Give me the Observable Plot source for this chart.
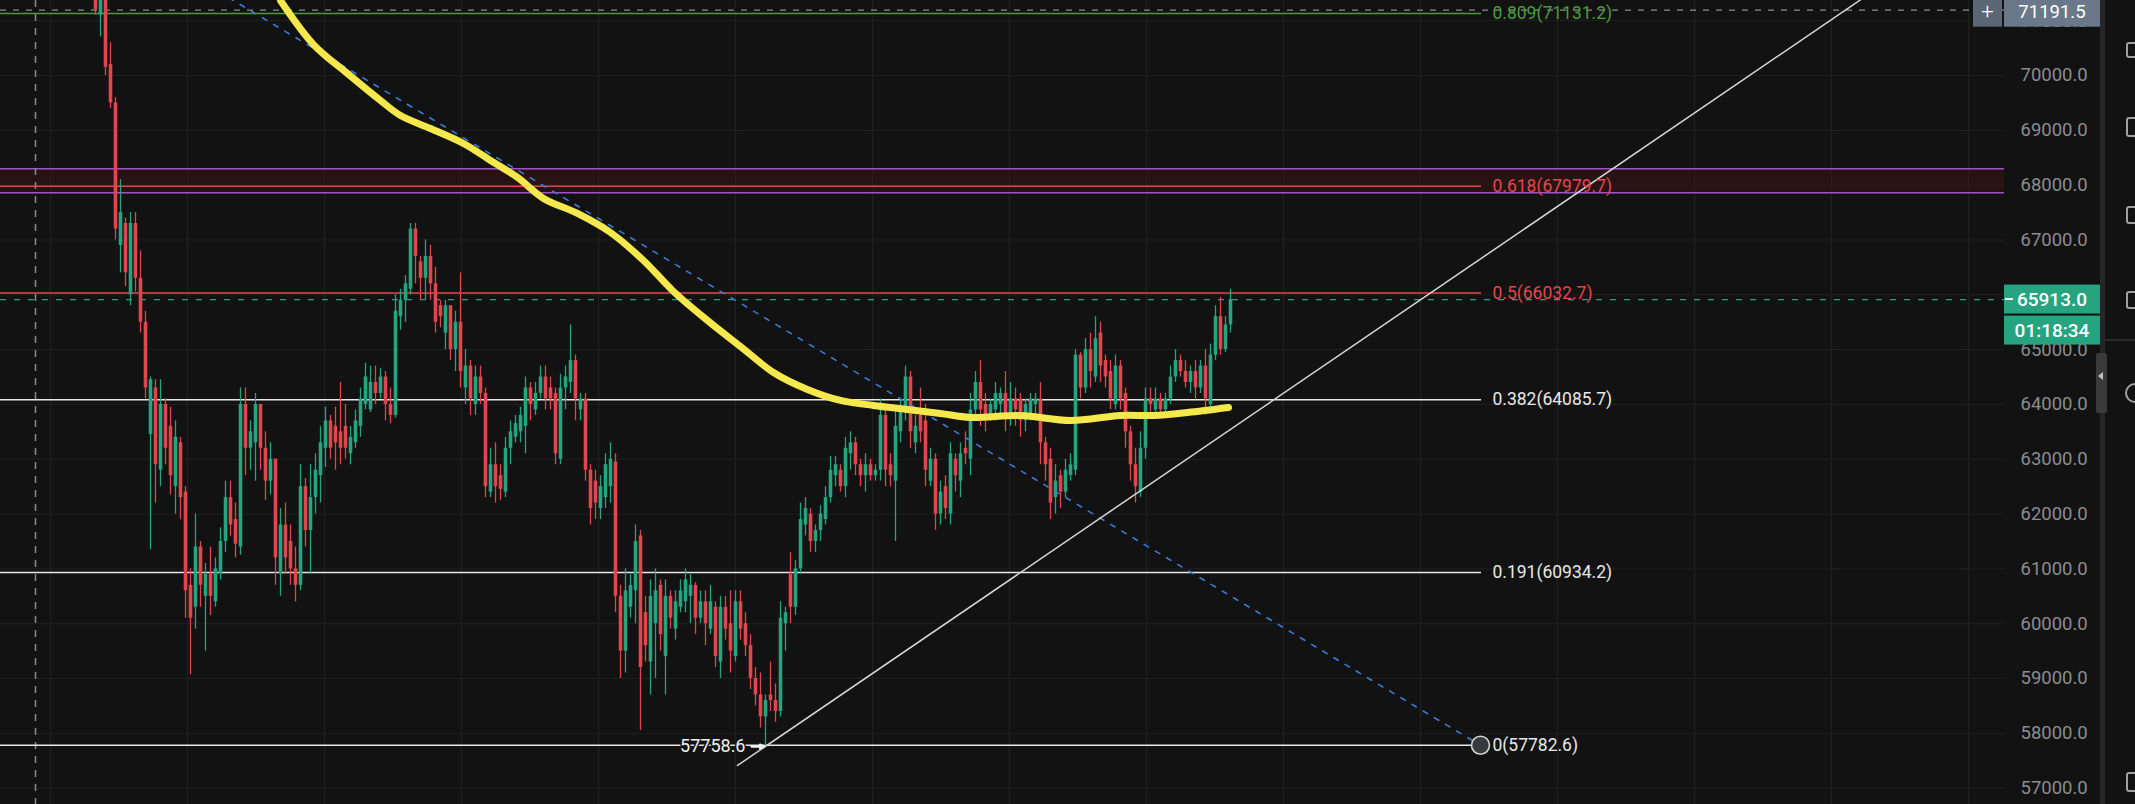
<!DOCTYPE html>
<html><head><meta charset="utf-8">
<script src="https://cdn.jsdelivr.net/npm/d3@7"></script>
<script src="https://cdn.jsdelivr.net/npm/@observablehq/plot@0.6"></script>
<style>
html,body{margin:0;padding:0;background:#121212;overflow:hidden}
#chart{position:relative;width:2135px;height:804px}
svg{display:block}
</style></head><body><div id="chart"></div>
<script>
// ---------- DATA ----------
// candles, one per bar index (0..227)
const opens = [
71900,71100,71450,70200,69500,66900,67300,66000,67300,66300,
65500,63450,64300,62800,64000,63600,62500,63300,62400,60700,
60300,61400,60500,60900,60400,60900,61500,62300,61900,61400,
64000,63200,63300,64000,63200,62600,63000,60900,61800,61500,
61000,60700,62500,61700,62300,62700,63200,63700,63600,63500,
63600,63100,63300,63600,64000,63900,64400,64200,64500,64000,
63800,65600,65900,66100,67200,66600,66300,66700,66200,65800,
65300,65800,65000,65500,64300,64700,64000,64500,64200,62400,
62900,62700,62400,63200,63400,63500,63600,64300,63900,64200,
64500,64300,64200,63000,64300,64400,64800,63900,64100,62800,
62600,62100,62300,62500,62950,60500,59500,60300,60600,61600,
60200,59300,60000,60700,59400,60500,59900,60300,60400,60500,
60700,60100,60400,59900,60300,59300,60300,60000,59400,60400,
60000,59600,59000,58700,58300,58700,58600,58400,60000,60900,
60300,61000,61800,62000,61500,61700,61900,62300,62700,62800,
62500,63100,63300,62900,62700,62900,62700,62800,63800,62900,
62600,63500,63900,64500,63300,63800,63700,62600,63000,62000,
62500,62000,63000,62600,63200,63000,63900,64400,64000,63800,
63900,64000,64200,63800,64100,64100,63700,63800,64000,64100,
63300,63000,62300,62700,62400,62700,62800,64900,64300,65000,
64500,65300,64800,64600,64000,64700,64200,63500,62900,62400,
63200,64100,63900,64100,63900,64100,64500,64800,64600,64400,
64600,64300,64700,64000,64900,65600,65000,65450];
const highs = [
72100,71500,71500,70600,69600,68100,67400,67500,67500,66800,
65700,64500,64450,64450,64100,63950,63700,63400,62500,61000,
62000,61500,61100,61400,61200,61750,62600,62600,62200,64300,
64300,63700,64200,64000,63500,63300,63000,62100,62200,61800,
61400,62900,62650,62900,63100,63600,63950,63800,63950,64400,
64000,63600,63900,64300,64750,64700,64700,64650,64600,64300,
66000,66100,66350,67300,67300,66700,67000,66900,66500,65900,
65900,65800,65700,66400,65000,64800,64700,64700,64300,63200,
63300,62900,63400,63700,63800,63950,64500,64400,64400,64700,
64700,64500,64300,64550,64700,65450,64900,64200,64200,62900,
62800,62700,63100,63300,63100,60700,61000,60900,61800,61700,
60500,60800,61000,60800,60800,60600,60600,60800,61000,60900,
60750,60600,60600,60700,60400,60500,60500,60600,60600,60600,
60200,59800,59200,59100,58700,59300,58900,60400,60300,61300,
61150,62200,62300,62100,61800,62150,62500,63050,63050,62900,
63400,63500,63400,63000,63100,63000,62900,64100,63900,63100,
63900,64100,64700,64600,63800,64300,64000,63200,63100,62600,
62700,63300,63100,63300,63500,64200,64600,64800,64200,64100,
64400,64300,64600,64400,64300,64200,64100,64200,64200,64400,
63400,63200,62900,62800,63000,63100,65000,64950,65200,65300,
65600,65500,64900,64800,64900,64800,64300,63600,63200,63500,
64300,64300,64300,64200,64200,64700,65000,64900,64800,64700,
64800,64800,65000,65100,65800,65950,65600,66100];
const lows = [
71100,70700,70000,69400,67000,66400,66150,65800,66050,65300,
64100,61350,62200,62500,62900,62350,62000,61900,60100,59070,
59900,60300,59500,60150,60300,60800,61300,61600,61200,61250,
62700,62800,62600,62800,62250,62350,60700,60500,60900,60700,
60400,60600,61400,60900,62000,62200,62850,63000,62800,62900,
63000,62900,63200,63400,63900,63850,64000,64100,63700,63650,
63750,65350,65500,66000,66200,65900,65900,65900,65300,65400,
65000,64800,64600,64300,64000,63800,63800,64000,62300,62300,
62200,62250,62300,62900,63300,63300,63100,63700,63800,64100,
63900,63900,62900,62900,63900,64200,63700,63700,62600,61800,
61900,61900,62100,62200,60200,59000,59100,60100,60000,58050,
59300,58700,59000,59500,58700,59900,59700,60200,60200,60000,
59800,60000,59600,59800,59200,59000,59700,59100,59300,59700,
59400,58800,58500,58100,57758.6,58400,58200,58300,59500,60000,
60150,60900,61600,61300,61300,61500,61800,62200,62500,62400,
62300,62800,62700,62500,62400,62600,62600,62600,62500,62500,
61500,63300,63700,63200,63100,63300,62500,62500,61700,61800,
61900,61800,62400,62300,62900,62700,63700,63600,63500,63700,
63700,63800,63500,63600,63600,63400,63500,63700,63800,62900,
62600,61900,62000,62100,62300,62600,62700,64100,64200,64300,
64400,64400,64300,63900,63900,63900,63200,62600,62200,62300,
63000,63800,63800,63800,63800,64000,64400,64500,64300,64200,
64100,64200,63800,63900,64800,64900,64950,65300];
const closes = [
71200,71450,70150,69500,67200,67500,66400,67300,66300,65500,
64300,64450,62900,64000,63200,62700,63400,62300,60600,60100,
61400,60700,60900,60500,61000,61500,62300,61800,61450,64000,
63200,63500,64000,63200,62600,63000,61200,61800,61200,61000,
60700,62500,61700,62300,62800,63300,63700,63200,63300,63200,
63200,63400,63700,64100,64500,64400,64200,64500,64000,63800,
65700,65900,66200,67200,66700,66300,66700,66200,65500,65600,
65800,65000,65500,64600,64700,64100,64500,64200,62500,62900,
62500,62450,63200,63500,63650,63800,64300,64000,64200,64500,
64100,64100,63100,64300,64500,64800,64100,64100,62800,62100,
62200,62500,62900,63000,60500,59500,60600,60700,61500,59200,
59600,60500,60600,59800,60500,60100,60400,60600,60800,60700,
60100,60400,60000,60400,59400,60300,59900,59500,60400,59900,
59600,59000,58700,58300,58600,58600,58400,60100,60200,60300,
61000,61900,62100,61500,61700,62000,62300,62800,62900,62500,
63200,63300,62900,62700,62900,62700,62800,63800,62800,62700,
63600,63900,64500,63500,63600,63500,62800,63000,62000,62400,
62100,63100,62700,63100,63100,63900,64400,63900,63800,64000,
64200,64200,63800,64100,63900,63700,64000,64100,64100,63300,
62900,62200,62600,62400,62800,62900,64900,64300,65000,64600,
65200,64700,64500,64100,64700,64100,63500,62900,62500,63200,
64100,64000,64100,63900,64100,64500,64800,64600,64400,64600,
64300,64700,64100,64900,65600,65000,65450,65913];

// Fibonacci retracement levels
const fibRatios = ["0.809", "0.618", "0.5", "0.382", "0.191", "0"];
const fibPrices = [71131.2, 67979.7, 66032.7, 64085.7, 60934.2, 57782.6];
const fibBars = [-19, 277.2];          // drawing span (bar index)
const fibLabelBar = 279.4;

// purple resistance zone
const zonePrices = [67860, 68298];

// hand-drawn yellow average curve (bar index, price)
const yellowBars   = [37, 43.6, 50.4, 57, 61, 67, 73.6, 79, 84.4, 89.6, 96.4, 103, 109.6, 115.6, 122.4, 129, 135.6, 142.4, 149, 155.6, 162.4, 169, 175, 185, 195, 205, 211.6, 218.4, 226.6];
const yellowPrices = [71368, 70565, 70036, 69544, 69270, 69033, 68760, 68450, 68140, 67757, 67483, 67136, 66626, 66060, 65531, 65057, 64583, 64273, 64072, 63981, 63908, 63835, 63762, 63798, 63707, 63798, 63798, 63853, 63944];

// blue dashed fib trend line (bar, price)
const blueBars = [20, 277];
const bluePrices = [71782, 57782.6];
// ascending white support line
const supportBars = [128.4, 360];
const supportPrices = [57414, 71816];

// price axis ticks
const priceTicks = d3.range(57000, 71001, 1000);
const lastPrice = 65913.0;
const countdown = "01:18:34";
const crossPrice = 71191.5;
const crossBar = -12;
const lowPrice = 57758.6;
const lowLabelBar = 130;

// ---------- BUILD ----------
const W = 2135, H = 804, MR = 131;
const candles = opens.map((o, i) => ({i, o, h: highs[i], l: lows[i], c: closes[i], up: closes[i] >= o}));
const fibs = fibRatios.map((r, k) => ({r, p: fibPrices[k], x1: fibBars[0], x2: fibBars[1], lx: fibLabelBar, label: `${r}(${fibPrices[k].toFixed(1)})`}));
const fibColor = r => ({"0.809": "#4c9a3c", "0.618": "#e2474f", "0.5": "#e2474f"}[r] || "#e8e8e8");
const yellow = yellowBars.map((b, k) => ({b, p: yellowPrices[k]}));
const blue = blueBars.map((b, k) => ({b, p: bluePrices[k]}));
const support = supportBars.map((b, k) => ({b, p: supportPrices[k]}));
const UP = "#26a47f", DOWN = "#e0464d";

const chart = Plot.plot({
  width: W, height: H,
  marginLeft: 0, marginRight: MR, marginTop: 0, marginBottom: 0,
  x: {domain: [-19, 381.8], axis: null},
  y: {domain: [56702, 71368], axis: null},
  style: {background: "#121212", fontFamily: "Roboto, sans-serif", fontSize: "16px", overflow: "visible"},
  marks: [
    Plot.ruleY(priceTicks, {stroke: "#202020", strokeWidth: 1}),
    Plot.ruleX(d3.range(-9, 382, 27.4), {stroke: "#202020", strokeWidth: 1.2}),
    Plot.rect([zonePrices], {y1: d => d[0], y2: d => d[1], fill: "#3a1416", fillOpacity: 0.55}),
    Plot.ruleY(zonePrices, {stroke: "#a052c8", strokeWidth: 1.6}),
    Plot.ruleX([crossBar], {stroke: "#8a8a8a", strokeDasharray: "7,7", strokeWidth: 1.5}),
    Plot.ruleY([crossPrice], {stroke: "#8c8c8c", strokeDasharray: "6,7", strokeWidth: 1.2}),
    Plot.ruleY(fibs, {y: "p", x1: "x1", x2: "x2", stroke: d => fibColor(d.r), strokeWidth: 1.6}),
    Plot.ruleY([lastPrice], {stroke: "#26a47f", strokeDasharray: "6,8", strokeWidth: 1.3}),
    // candles
    Plot.ruleX(candles, {x: "i", y1: "l", y2: "h", stroke: d => d.up ? UP : DOWN, strokeWidth: 1.3, clip: true}),
    Plot.ruleX(candles, {x: "i", y1: d => Math.min(d.o, d.c), y2: d => Math.max(d.o, d.c), stroke: d => d.up ? UP : DOWN, strokeWidth: 3.6, clip: true}),
    // drawings
    Plot.line(blue, {x: "b", y: "p", stroke: "#3a7bd5", strokeWidth: 1.6, strokeDasharray: "5,8", clip: true}),
    Plot.line(support, {x: "b", y: "p", stroke: "#d6d6d6", strokeWidth: 1.5, clip: true}),
    Plot.line(yellow, {x: "b", y: "p", stroke: "#f4e84c", strokeWidth: 7, curve: "catmull-rom", strokeLinecap: "round", clip: true}),
    Plot.dot([{b: fibBars[1] - 0.2, p: fibPrices[5]}], {x: "b", y: "p", r: 9, fill: "#353b3c", stroke: "#d2d2d2", strokeWidth: 1.6}),
    Plot.text(fibs, {x: "lx", y: "p", text: "label", textAnchor: "start", fill: d => fibColor(d.r), fontSize: 17.5}),
    Plot.text([{b: lowLabelBar, p: lowPrice}], {x: "b", y: "p", text: d => d.p.toFixed(1), textAnchor: "end", fill: "#f0f0f0", fontSize: 18, stroke: "#121212", strokeWidth: 3, paintOrder: "stroke"}),
    Plot.arrow([{b1: lowLabelBar + 1.2, b2: lowLabelBar + 3.6, p: lowPrice}], {x1: "b1", x2: "b2", y1: "p", y2: "p", stroke: "#f0f0f0", strokeWidth: 2.2, headLength: 5}),
    Plot.axisY(priceTicks, {anchor: "right", tickSize: 0, tickPadding: 16, tickFormat: d => d.toFixed(1), color: "#8a8c90", fontSize: 18.5})
  ]
});
document.getElementById("chart").append(chart);

// ---------- price-scale overlays (positioned through Plot's y scale) ----------
const ys = chart.scale("y");
const svg = d3.select(chart);
const px = W - MR;      // right edge of the plotting area
const g = svg.append("g").attr("font-family", "Roboto, sans-serif");

function box(yc, h, x0, x1, fill, text, size, weight) {
  g.append("rect").attr("x", x0).attr("y", yc - h / 2).attr("width", x1 - x0).attr("height", h).attr("fill", fill);
  g.append("text").attr("x", (x0 + x1) / 2).attr("y", yc).attr("dy", "0.35em").attr("text-anchor", "middle")
    .attr("fill", "#ffffff").attr("font-size", size).attr("font-weight", weight).text(text);
}
// toolbar strip
g.append("rect").attr("x", 2100).attr("y", 0).attr("width", 5).attr("height", H).attr("fill", "#262626");
g.append("line").attr("x1", 2105).attr("x2", W).attr("y1", 340).attr("y2", 340).attr("stroke", "#2a2a2a").attr("stroke-width", 2);
g.append("rect").attr("x", 2096).attr("y", 353).attr("width", 11).attr("height", 60).attr("rx", 2).attr("fill", "#3a3a3a");
g.append("path").attr("d", "M2103,372 L2098,376 L2103,380 Z").attr("fill", "#bdbdbd");

// crosshair price label + button
const yc1 = ys.apply(crossPrice);
box(yc1 + 2, 30, px + 0, 2100, "#6b7889", crossPrice.toFixed(1), 18.5, 400);
box(yc1 + 2, 30, 1973, 2002, "#5c6776", "+", 22, 300);
// last price + countdown
const yc2 = ys.apply(lastPrice);
box(yc2, 29, px, 2100, "#26a47f", lastPrice.toFixed(1), 19, 500);
box(yc2 + 31, 29, px, 2100, "#26a47f", countdown, 19, 500);
g.append("line").attr("x1", px + 1).attr("x2", px + 9).attr("y1", yc2).attr("y2", yc2).attr("stroke", "#fff").attr("stroke-width", 2);

// partially visible toolbar icons
const icon = (y, h) => g.append("rect").attr("x", 2127).attr("y", y).attr("width", 16).attr("height", h).attr("rx", 2)
  .attr("fill", "none").attr("stroke", "#a0a0a0").attr("stroke-width", 2);
icon(43, 14); icon(118, 18); icon(207, 16); icon(292, 16); icon(773, 18);
g.append("circle").attr("cx", 2135).attr("cy", 393).attr("r", 9).attr("fill", "none").attr("stroke", "#a0a0a0").attr("stroke-width", 2);
</script>
</body></html>
